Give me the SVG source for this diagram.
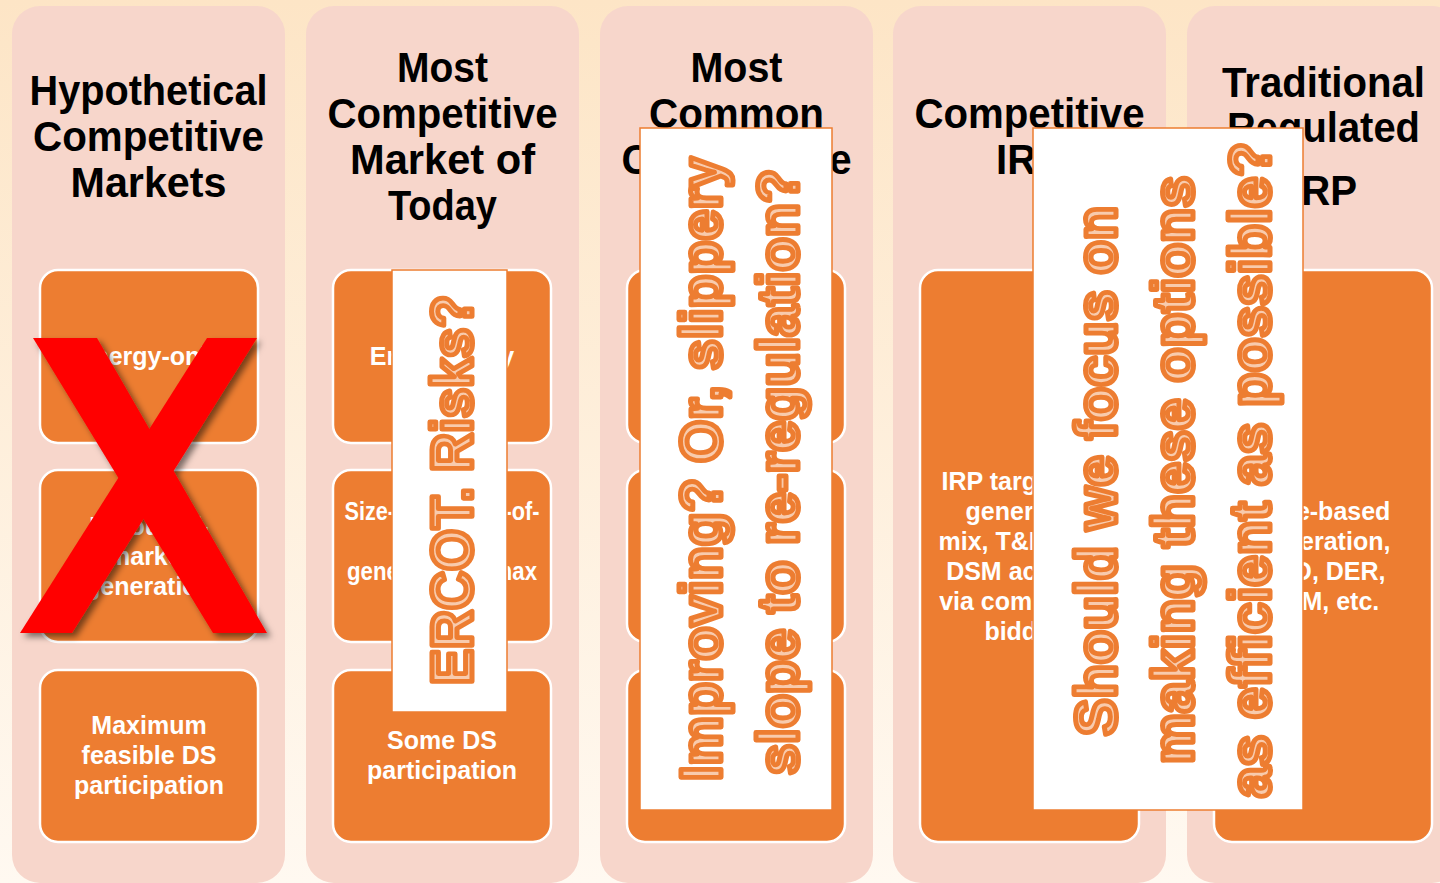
<svg xmlns="http://www.w3.org/2000/svg" width="1440" height="883" viewBox="0 0 1440 883">
  <defs>
    <linearGradient id="bg" x1="0" y1="0" x2="0" y2="1">
      <stop offset="0" stop-color="#FDE5C6"/>
      <stop offset="1" stop-color="#FFF9F1"/>
    </linearGradient>
    <filter id="shadow" x="-20%" y="-20%" width="140%" height="140%">
      <feDropShadow dx="4" dy="4" stdDeviation="3" flood-color="#000" flood-opacity="0.5"/>
    </filter>
    <style>
      .col { fill: #F7D6CB; }
      .box { fill: #ED7D31; stroke: #FFFFFF; stroke-width: 2.5; }
      .head { font-family: "Liberation Sans", Arial, sans-serif; font-weight: bold; font-size: 42px; fill: #000; text-anchor: middle; }
      .btxt { font-family: "Liberation Sans", Arial, sans-serif; font-weight: bold; font-size: 25px; fill: #FFFFFF; text-anchor: middle; }
      .note { fill: #FFFFFF; stroke: #ED7D31; stroke-width: 1.5; }
      .vt { font-family: "Liberation Sans", Arial, sans-serif; font-weight: bold; font-size: 58px; fill: #F8CBAD; stroke: #ED7D31; stroke-width: 5; stroke-linejoin: round; text-anchor: middle; }
      .cross { fill: #FF0000; }
    </style>
  </defs>

  <rect x="0" y="0" width="1440" height="883" fill="url(#bg)"/>

  <g id="col1">
    <rect class="col" x="12" y="6" width="273" height="877" rx="28"/>
    <text class="head" x="148.5" y="105" textLength="238" lengthAdjust="spacingAndGlyphs">Hypothetical</text>
    <text class="head" x="148.5" y="151" textLength="231" lengthAdjust="spacingAndGlyphs">Competitive</text>
    <text class="head" x="148.5" y="197" textLength="156" lengthAdjust="spacingAndGlyphs">Markets</text>
    <g id="col1-box1">
      <rect class="box" x="40" y="270" width="218" height="173" rx="18"/>
      <text class="btxt" x="149" y="365">Energy-only</text>
    </g>
    <g id="col1-box2">
      <rect class="box" x="40" y="470" width="218" height="172" rx="18"/>
      <text class="btxt" x="149" y="535">No out-of-</text>
      <text class="btxt" x="149" y="565">market</text>
      <text class="btxt" x="149" y="595">generation</text>
    </g>
    <g id="col1-box3">
      <rect class="box" x="40" y="670" width="218" height="172" rx="18"/>
      <text class="btxt" x="149" y="734">Maximum</text>
      <text class="btxt" x="149" y="764">feasible DS</text>
      <text class="btxt" x="149" y="794">participation</text>
    </g>
  </g>

  <g id="col2">
    <rect class="col" x="306" y="6" width="273" height="877" rx="28"/>
    <text class="head" x="442.5" y="82" textLength="91" lengthAdjust="spacingAndGlyphs">Most</text>
    <text class="head" x="442.5" y="128" textLength="230" lengthAdjust="spacingAndGlyphs">Competitive</text>
    <text class="head" x="442.5" y="174" textLength="185" lengthAdjust="spacingAndGlyphs">Market of</text>
    <text class="head" x="442.5" y="220" textLength="109" lengthAdjust="spacingAndGlyphs">Today</text>
    <g id="col2-box1">
      <rect class="box" x="333" y="270" width="218" height="173" rx="18"/>
      <text class="btxt" x="442" y="365">Energy-only</text>
    </g>
    <g id="col2-box2">
      <rect class="box" x="333" y="470" width="218" height="172" rx="18"/>
      <text class="btxt" x="442" y="520" textLength="195" lengthAdjust="spacingAndGlyphs">Size-limited out-of-</text>
      <text class="btxt" x="442" y="580" textLength="190" lengthAdjust="spacingAndGlyphs">generation at max</text>
    </g>
    <g id="col2-box3">
      <rect class="box" x="333" y="670" width="218" height="172" rx="18"/>
      <text class="btxt" x="442" y="749">Some DS</text>
      <text class="btxt" x="442" y="779">participation</text>
    </g>
  </g>

  <g id="col3">
    <rect class="col" x="600" y="6" width="273" height="877" rx="28"/>
    <text class="head" x="736.5" y="82" textLength="92" lengthAdjust="spacingAndGlyphs">Most</text>
    <text class="head" x="736.5" y="128" textLength="175" lengthAdjust="spacingAndGlyphs">Common</text>
    <text class="head" x="736.5" y="174" textLength="230" lengthAdjust="spacingAndGlyphs">Competitive</text>
    <rect id="col3-box1" class="box" x="627" y="270" width="218" height="173" rx="18"/>
    <rect id="col3-box2" class="box" x="627" y="470" width="218" height="172" rx="18"/>
    <rect id="col3-box3" class="box" x="627" y="670" width="218" height="172" rx="18"/>
  </g>

  <g id="col4">
    <rect class="col" x="893" y="6" width="273" height="877" rx="28"/>
    <text class="head" x="1029.5" y="128" textLength="230" lengthAdjust="spacingAndGlyphs">Competitive</text>
    <text class="head" x="1029.5" y="174" textLength="67" lengthAdjust="spacingAndGlyphs">IRP</text>
    <g id="col4-box">
      <rect class="box" x="920" y="270" width="219" height="572" rx="18"/>
      <text class="btxt" x="1029.5" y="490">IRP targets the</text>
      <text class="btxt" x="1029.5" y="520">generation</text>
      <text class="btxt" x="1029.5" y="550">mix, T&amp;D, DER,</text>
      <text class="btxt" x="1029.5" y="580">DSM acquired</text>
      <text class="btxt" x="1029.5" y="610">via competitive</text>
      <text class="btxt" x="1029.5" y="640">bidding</text>
    </g>
  </g>

  <g id="col5">
    <rect class="col" x="1187" y="6" width="273" height="877" rx="28"/>
    <text class="head" x="1323.5" y="97" textLength="203" lengthAdjust="spacingAndGlyphs">Traditional</text>
    <text class="head" x="1323.5" y="142" textLength="193" lengthAdjust="spacingAndGlyphs">Regulated</text>
    <text class="head" x="1323.5" y="205" textLength="67" lengthAdjust="spacingAndGlyphs">IRP</text>
    <g id="col5-box">
      <rect class="box" x="1214" y="270" width="218" height="572" rx="18"/>
      <text class="btxt" x="1323" y="520">Rate-based</text>
      <text class="btxt" x="1323" y="550">generation,</text>
      <text class="btxt" x="1323" y="580">T&amp;D, DER,</text>
      <text class="btxt" x="1323" y="610">DSM, etc.</text>
    </g>
  </g>

  <g id="connectors"/>

  <g id="cross-out" filter="url(#shadow)">
    <polygon class="cross" points="33,338 97,338 267,633 213,633"/>
    <polygon class="cross" points="207,338 257,338 72,633 20,633"/>
  </g>

  <g id="note-ercot">
    <rect class="note" x="392" y="270" width="115" height="442"/>
    <text class="vt" transform="translate(472,490) rotate(-90)" textLength="390" lengthAdjust="spacingAndGlyphs">ERCOT. Risks?</text>
  </g>

  <g id="note-improving">
    <rect class="note" x="640" y="128" width="192" height="682"/>
    <text class="vt" transform="translate(721,469) rotate(-90)" textLength="624" lengthAdjust="spacingAndGlyphs">Improving? Or, slippery</text>
    <text class="vt" transform="translate(798,472) rotate(-90)" textLength="606" lengthAdjust="spacingAndGlyphs">slope to re-regulation?</text>
  </g>

  <g id="note-focus">
    <rect class="note" x="1033" y="128" width="270" height="682"/>
    <text class="vt" transform="translate(1116,471) rotate(-90)" textLength="530" lengthAdjust="spacingAndGlyphs">Should we focus on</text>
    <text class="vt" transform="translate(1193,470) rotate(-90)" textLength="588" lengthAdjust="spacingAndGlyphs">making these options</text>
    <text class="vt" transform="translate(1270,470) rotate(-90)" textLength="656" lengthAdjust="spacingAndGlyphs">as efficient as possible?</text>
  </g>
</svg>
